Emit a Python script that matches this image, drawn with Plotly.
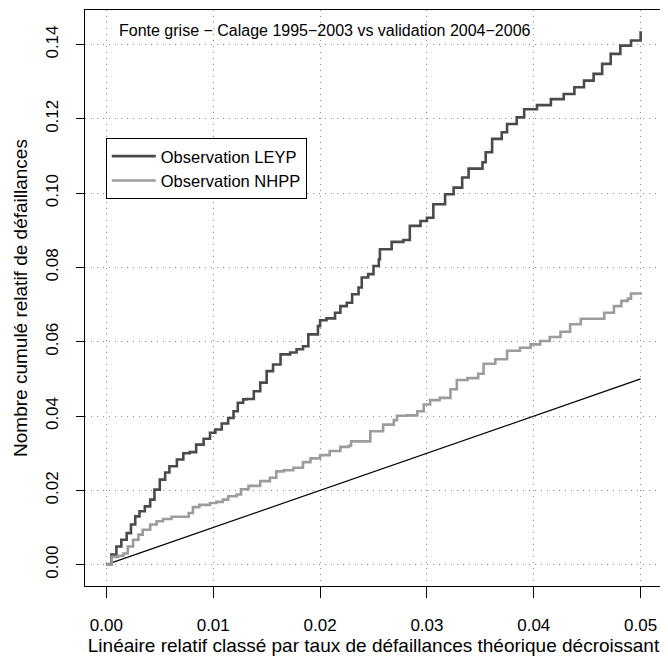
import plotly.graph_objects as go

# cumulative relative failures vs relative length
leyp_x = [0, 0.00047, 0.00094, 0.0014, 0.0019, 0.0023, 0.0027, 0.0031, 0.0036, 0.0041,
          0.0045, 0.0050, 0.0055, 0.0059, 0.0066, 0.0072, 0.0078, 0.0084, 0.0091, 0.0097,
          0.0102, 0.0108, 0.0114, 0.0119, 0.0123, 0.0128, 0.0131, 0.0138, 0.0144, 0.0150,
          0.0156, 0.0163, 0.0172, 0.0178, 0.0184, 0.0189, 0.0198, 0.0200, 0.0206, 0.0214,
          0.0219, 0.0225, 0.0230, 0.0236, 0.0239, 0.0245, 0.0250, 0.0255, 0.0256, 0.0267,
          0.0278, 0.0284, 0.0294, 0.0300, 0.0306, 0.0317, 0.0325, 0.0333, 0.0339, 0.0352,
          0.0355, 0.0361, 0.0370, 0.0375, 0.0384, 0.0391, 0.0403, 0.0416, 0.0428, 0.0438,
          0.0447, 0.0456, 0.0464, 0.0472, 0.0481, 0.0491, 0.0500]
leyp_y = [0, 0.0027, 0.0049, 0.0067, 0.0085, 0.0108, 0.0130, 0.0144, 0.0157, 0.0175,
          0.0202, 0.0229, 0.0248, 0.0265, 0.0283, 0.0300, 0.0303, 0.0323, 0.0339, 0.0355,
          0.0364, 0.0380, 0.0395, 0.0413, 0.0436, 0.0445, 0.0446, 0.0467, 0.0490, 0.0521,
          0.0539, 0.0566, 0.0571, 0.0580, 0.0588, 0.0620, 0.0642, 0.0658, 0.0663, 0.0678,
          0.0696, 0.0705, 0.0728, 0.0746, 0.0773, 0.0782, 0.0804, 0.0822, 0.0849, 0.0869,
          0.0874, 0.0912, 0.0925, 0.0934, 0.0970, 0.0997, 0.1015, 0.1042, 0.1066, 0.1083,
          0.1110, 0.1146, 0.1164, 0.1186, 0.1204, 0.1226, 0.1237, 0.1253, 0.1267, 0.1285,
          0.1303, 0.1321, 0.1348, 0.1375, 0.1397, 0.1411, 0.1436]

nhpp_x = [0, 0.0005, 0.0011, 0.0016, 0.0020, 0.0025, 0.0030, 0.0034, 0.0041, 0.0047,
          0.0053, 0.0061, 0.0070, 0.0077, 0.0081, 0.0087, 0.0097, 0.0103, 0.0109, 0.0114,
          0.0122, 0.0126, 0.0133, 0.0144, 0.0153, 0.0159, 0.0166, 0.0175, 0.0184, 0.0191,
          0.0200, 0.0209, 0.0219, 0.0227, 0.0229, 0.0241, 0.0247, 0.0259, 0.0269, 0.0272,
          0.0281, 0.0291, 0.0297, 0.0303, 0.0312, 0.0322, 0.0328, 0.0338, 0.0348, 0.0353,
          0.0364, 0.0375, 0.0387, 0.0397, 0.0406, 0.0415, 0.0425, 0.0434, 0.0444, 0.0459,
          0.0466, 0.0475, 0.0482, 0.0488, 0.0491, 0.0500]
nhpp_y = [0, 0.0021, 0.0024, 0.0030, 0.0049, 0.0067, 0.0081, 0.0094, 0.0108, 0.0117,
          0.0123, 0.0129, 0.0129, 0.0139, 0.0155, 0.0161, 0.0166, 0.0169, 0.0175, 0.0184,
          0.0189, 0.0203, 0.0212, 0.0225, 0.0234, 0.0251, 0.0254, 0.0261, 0.0276, 0.0286,
          0.0295, 0.0306, 0.0317, 0.0320, 0.0332, 0.0332, 0.0359, 0.0377, 0.0389, 0.0401,
          0.0402, 0.0413, 0.0431, 0.0443, 0.0449, 0.0472, 0.0497, 0.0502, 0.0514, 0.0541,
          0.0553, 0.0576, 0.0584, 0.0593, 0.0602, 0.0613, 0.0627, 0.0647, 0.0662, 0.0662,
          0.0678, 0.0696, 0.0710, 0.0716, 0.0730, 0.0733]

ref_x = [0, 0.05]
ref_y = [0, 0.05]

x_ticks = [0.00, 0.01, 0.02, 0.03, 0.04, 0.05]
y_ticks = [0.00, 0.02, 0.04, 0.06, 0.08, 0.10, 0.12, 0.14]

FONT = "Liberation Sans, Arial, sans-serif"

fig = go.Figure()
fig.add_trace(go.Scatter(x=ref_x, y=ref_y, mode="lines", showlegend=False,
                         line=dict(color="black", width=1.2)))
fig.add_trace(go.Scatter(x=leyp_x, y=leyp_y, mode="lines", name="Observation LEYP",
                         line=dict(color="#4a4a4a", width=2.6, shape="hv")))
fig.add_trace(go.Scatter(x=nhpp_x, y=nhpp_y, mode="lines", name="Observation NHPP",
                         line=dict(color="#9c9c9c", width=2.6, shape="hv")))

fig.add_annotation(text="Fonte grise \u2212 Calage 1995\u22122003 vs validation 2004\u22122006",
                   xref="paper", yref="paper", x=0.055, y=0.965,
                   xanchor="left", yanchor="middle", showarrow=False,
                   font=dict(size=16, color="black", family=FONT))

axis_common = dict(showline=True, mirror=True, linecolor="black", linewidth=1,
                   ticks="outside", tickcolor="black", tickwidth=1,
                   showgrid=True, gridcolor="#8c8c8c", griddash="1px,5px", gridwidth=1,
                   zeroline=False, tickformat=".2f", automargin=False,
                   tickfont=dict(size=17, color="black", family=FONT))

fig.update_xaxes(range=[-0.002, 0.052], tickvals=x_ticks, ticklen=11, ticklabelstandoff=13,
                 title=dict(text="Linéaire relatif classé par taux de défaillances théorique décroissant",
                            font=dict(size=19, color="black", family=FONT), standoff=0),
                 **axis_common)
fig.update_yaxes(range=[-0.00574, 0.1493], tickvals=y_ticks, tickangle=-90,
                 ticklen=8, ticklabelstandoff=11,
                 title=dict(text="Nombre cumulé relatif de défaillances",
                            font=dict(size=19, color="black", family=FONT), standoff=10),
                 **axis_common)

# the page body has an 8px margin, so the figure is shrunk by that much
fig.update_layout(
    width=660, height=650,
    margin=dict(l=77, r=6, t=2, b=72),
    paper_bgcolor="white", plot_bgcolor="white",
    font=dict(family=FONT, color="black"),
    legend=dict(x=0.036, y=0.778, xanchor="left", yanchor="top",
                bgcolor="white", bordercolor="black", borderwidth=1,
                font=dict(size=16.5, color="black", family=FONT),
                tracegroupgap=0, itemwidth=44),
)

fig.write_html("out.html")
